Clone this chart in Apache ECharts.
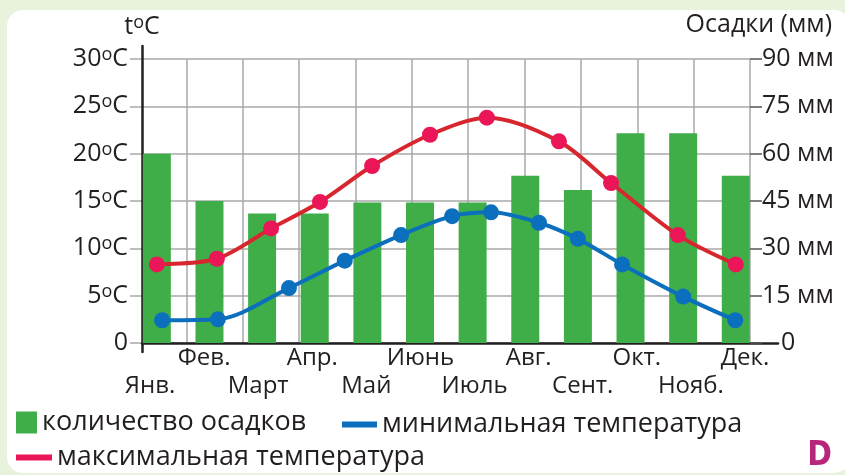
<!DOCTYPE html>
<html>
<head>
<meta charset="utf-8">
<script src="https://cdn.jsdelivr.net/npm/echarts@6/dist/echarts.min.js"></script>
<style>
  html, body { margin: 0; padding: 0; background: #e9f2dd; }
  #wrap { position: relative; width: 845px; height: 475px; overflow: hidden; background: #e9f2dd; }
  #panel { position: absolute; left: 7px; top: 10px; width: 843px; height: 463px; border-radius: 16px; background: #ffffff; }
  #chart { position: absolute; left: 0; top: 0; width: 845px; height: 475px; }
</style>
</head>
<body>
<div id="wrap">
  <div id="panel"></div>
  <div id="chart"></div>
</div>
<script>
// Climate chart: monthly precipitation (bars) with min / max temperature curves.
const months = ['Янв.', 'Фев.', 'Март', 'Апр.', 'Май', 'Июнь', 'Июль', 'Авг.', 'Сент.', 'Окт.', 'Нояб.', 'Дек.'];

// precipitation per month, mm
const precipitation = [60, 45, 41, 41, 44.5, 44.5, 44.5, 53, 48.5, 66.5, 66.5, 53];

// max temperature: position in the year (0 = Jan … 11 = Dec) and value, °C
const tMaxPos = [0, 1.14, 2.17, 3.1, 4.09, 5.19, 6.27, 7.64, 8.63, 9.9, 11.0];
const tMax = [8.3, 8.9, 12.1, 14.9, 18.7, 22.0, 23.8, 21.3, 16.9, 11.4, 8.3];

// min temperature: position in the year and value, °C
const tMinPos = [0.1, 1.16, 2.51, 3.57, 4.64, 5.61, 6.35, 7.26, 8.0, 8.84, 10.0, 10.99];
const tMin = [2.4, 2.5, 5.8, 8.7, 11.4, 13.4, 13.8, 12.7, 11.0, 8.3, 4.9, 2.4];

// axis ticks
const tempTicks = { min: 0, max: 30, step: 5 };
const precipTicks = { min: 0, max: 90, step: 15 };

const FONT = "'Open Sans', 'Noto Sans', sans-serif";
const INK = '#231f20';
const GRID = '#a9a9a9';
const GREEN = '#3fae49';
const BLUE = '#0b6fbe';
const RED_LINE = '#d8262f';
const RED_DOT = '#ea1657';

const chart = echarts.init(document.getElementById('chart'), null, { renderer: 'canvas' });

const supRich = {
  s: { fontSize: 18, lineHeight: 15, verticalAlign: 'top', color: INK, fontFamily: FONT }
};
const noLine = { show: false, onZero: false };

chart.setOption({
  animation: false,
  backgroundColor: 'transparent',
  title: [
    { text: 'Осадки (мм)', right: 13, top: 12, padding: 0,
      textStyle: { fontFamily: FONT, fontSize: 25, fontWeight: 'normal', color: INK } },
    { text: 'D', right: 13, bottom: 2, padding: 0,
      textStyle: { fontFamily: "'Liberation Sans Narrow', 'DejaVu Sans Condensed', sans-serif", fontSize: 33, fontWeight: 'bold', color: '#b8267c' } }
  ],
  legend: [
    { data: [{ name: 'количество осадков', icon: 'rect' }], left: 16, top: 409, padding: 0,
      itemWidth: 21, itemHeight: 22, selectedMode: false,
      textStyle: { fontFamily: FONT, fontSize: 27, color: INK } },
    { data: [{ name: 'минимальная температура', icon: 'rect' }], left: 342, top: 411, padding: 0,
      itemWidth: 35, itemHeight: 6, selectedMode: false,
      lineStyle: { width: 6, color: BLUE }, itemStyle: { color: BLUE },
      textStyle: { fontFamily: FONT, fontSize: 27, color: INK } },
    { data: [{ name: 'максимальная температура', icon: 'rect' }], left: 16, top: 444, padding: 0,
      itemWidth: 36, itemHeight: 6, selectedMode: false,
      lineStyle: { width: 6, color: RED_DOT }, itemStyle: { color: RED_DOT },
      textStyle: { fontFamily: FONT, fontSize: 27, color: INK } }
  ],
  grid: [
    { left: 130, right: 95, top: 59, bottom: 132 },   // plot area
    { left: 150, right: 100, top: 59, bottom: 132 },  // month labels
    { left: 142, right: 67, top: 46, bottom: 123 }    // axis frame
  ],
  xAxis: [
    { // vertical grid lines
      type: 'value', gridIndex: 0, min: 0, max: 11, interval: 1,
      axisLine: noLine, axisTick: { show: false }, axisLabel: { show: false },
      splitLine: { show: true, showMinLine: false, lineStyle: { color: GRID, width: 1.5 } }
    },
    { // position in the year for bars and curves
      type: 'value', gridIndex: 0, min: -0.51, max: 11.27,
      axisLine: noLine, axisTick: { show: false }, axisLabel: { show: false }, splitLine: { show: false }
    },
    { // month names, two staggered rows
      type: 'category', gridIndex: 1, data: months, boundaryGap: false,
      axisLine: noLine, axisTick: { show: false }, splitLine: { show: false },
      axisLabel: {
        interval: 0, margin: 1, fontFamily: FONT, fontSize: 24, color: INK, lineHeight: 28,
        formatter: (v, i) => (i % 2 === 0 ? '\n' + v : v)
      }
    },
    { // horizontal axis line
      type: 'value', gridIndex: 2, min: 0, max: 1, offset: -9,
      axisLine: { show: true, onZero: false, lineStyle: { color: INK, width: 2.5 } },
      axisTick: { show: false }, axisLabel: { show: false }, splitLine: { show: false }
    }
  ],
  yAxis: [
    { // temperature
      type: 'value', gridIndex: 0, position: 'left',
      min: tempTicks.min, max: tempTicks.max, interval: tempTicks.step,
      axisLine: noLine, axisTick: { show: false },
      splitLine: { show: true, lineStyle: { color: GRID, width: 1.5 } },
      axisLabel: {
        margin: 2, fontFamily: FONT, fontSize: 25, color: INK, lineHeight: 26,
        formatter: v => (v === 0 ? '0' : v + '{s|o}C'),
        rich: supRich
      }
    },
    { // precipitation
      type: 'value', gridIndex: 0, position: 'right',
      min: precipTicks.min, max: precipTicks.max, interval: precipTicks.step,
      axisLine: noLine,
      axisTick: { show: true, length: 12, lineStyle: { color: '#555555', width: 1.5 } },
      splitLine: { show: false },
      axisLabel: {
        margin: 12, fontFamily: FONT, fontSize: 25, color: INK,
        formatter: v => (v === 0 ? '{z|0}' : v + ' мм'),
        rich: { z: { padding: [0, 0, 0, 19], fontSize: 25, fontFamily: FONT, color: INK } }
      }
    },
    { type: 'value', gridIndex: 1, min: 0, max: 1, show: false, axisLine: noLine },
    { // vertical axis line with its name
      type: 'value', gridIndex: 2, min: 0, max: 1,
      axisLine: { show: true, onZero: false, lineStyle: { color: INK, width: 2.5 } },
      axisTick: { show: false }, axisLabel: { show: false }, splitLine: { show: false },
      name: 't{s|o}C', nameLocation: 'end', nameGap: 6,
      nameTextStyle: { fontFamily: FONT, fontSize: 25, color: INK, lineHeight: 26, rich: supRich }
    }
  ],
  series: [
    {
      name: 'количество осадков', type: 'bar', xAxisIndex: 1, yAxisIndex: 1,
      barWidth: 28, itemStyle: { color: GREEN }, z: 2,
      data: precipitation.map((v, i) => [i, v])
    },
    {
      name: 'минимальная температура', type: 'line', xAxisIndex: 1, yAxisIndex: 0,
      smooth: 0.3, symbol: 'circle', symbolSize: 16, z: 3,
      lineStyle: { color: BLUE, width: 4 }, itemStyle: { color: BLUE },
      data: tMinPos.map((p, i) => [p, tMin[i]])
    },
    {
      name: 'максимальная температура', type: 'line', xAxisIndex: 1, yAxisIndex: 0,
      smooth: 0.3, symbol: 'circle', symbolSize: 16, z: 4,
      lineStyle: { color: RED_LINE, width: 4 }, itemStyle: { color: RED_DOT },
      data: tMaxPos.map((p, i) => [p, tMax[i]])
    }
  ]
});
</script>
</body>
</html>
